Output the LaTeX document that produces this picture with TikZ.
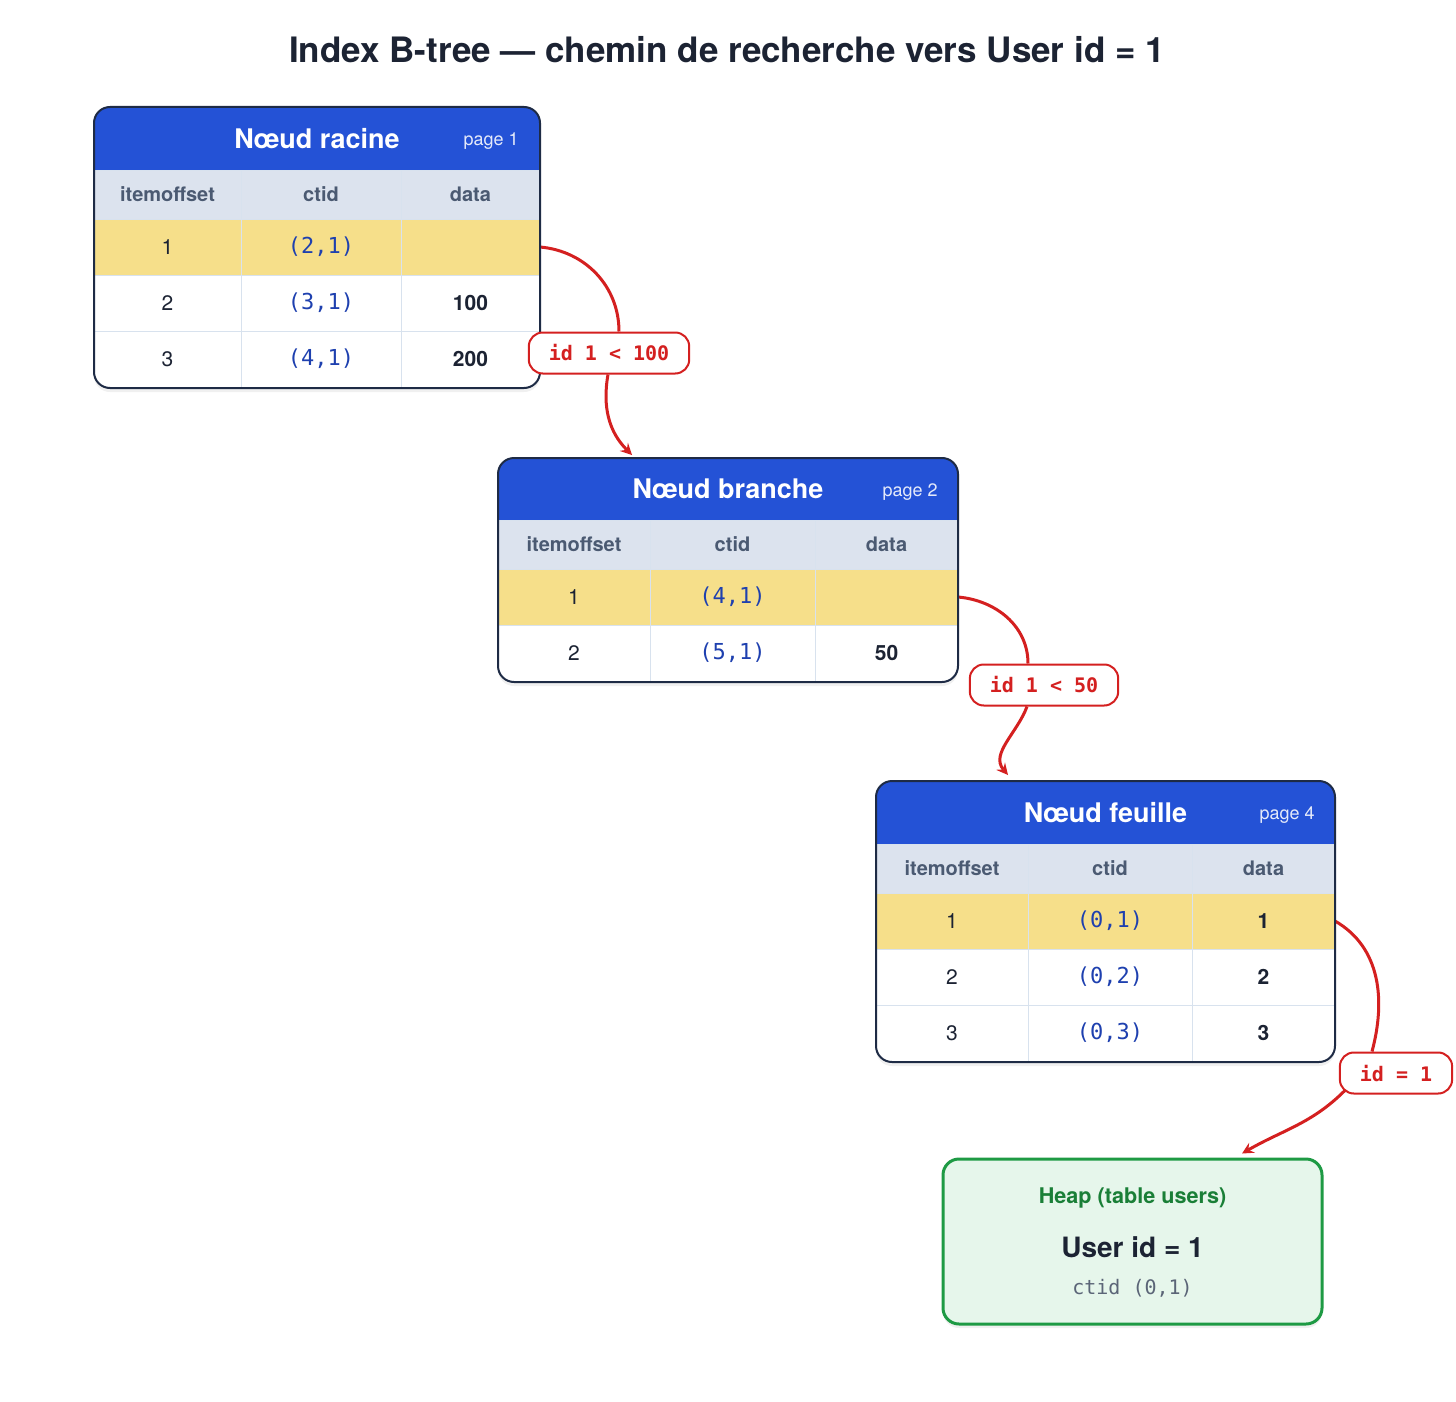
\documentclass[tikz,border=0pt]{standalone}
\usepackage{fontspec}
\setmainfont{TeX Gyre Heros}
\setmonofont{DejaVu Sans Mono}
\usepackage{tikz}
\usetikzlibrary{positioning,arrows,shadows,backgrounds}

\definecolor{headblue}{HTML}{2452D6}
\definecolor{colgrey}{HTML}{DCE3EE}
\definecolor{coltext}{HTML}{4B5A72}
\definecolor{hityellow}{HTML}{F6DF8A}
\definecolor{framenavy}{HTML}{1E2B45}
\definecolor{gridline}{HTML}{D8E2EE}
\definecolor{inktext}{HTML}{1C2333}
\definecolor{ctidblue}{HTML}{1E40AF}
\definecolor{linkred}{HTML}{D42020}
\definecolor{heapgreen}{HTML}{1E9A44}
\definecolor{heapfill}{HTML}{E6F6EB}
\definecolor{heaptext}{HTML}{1A7F37}
\definecolor{mutedgrey}{HTML}{5B6577}

\tikzstyle{headcell} = [rectangle, minimum height=31.5pt, inner sep=0pt, outer sep=0pt, fill=headblue, text=white, font=\fontsize{13.5}{16}\selectfont\bfseries]
\tikzstyle{pagelabel} = [inner sep=0pt, text=white!88!headblue, font=\fontsize{9}{11}\selectfont]
\tikzstyle{cell} = [rectangle, minimum height=28pt, inner sep=0pt, outer sep=0pt, draw=gridline, line width=0.5pt, fill=white, text=inktext, font=\fontsize{10.5}{12}\selectfont]
\tikzstyle{colhead} = [cell, minimum height=24.5pt, fill=colgrey, text=coltext, font=\fontsize{10}{12}\selectfont\bfseries]
\tikzstyle{hit} = [fill=hityellow]
\tikzstyle{ctid} = [text=ctidblue, font=\fontsize{11}{13}\selectfont\ttfamily]
\tikzstyle{datum} = [font=\fontsize{10.5}{12}\selectfont\bfseries]
\tikzstyle{frame} = [draw=framenavy, line width=1pt, rounded corners=8pt]
\tikzstyle{paper} = [fill=white, rounded corners=8pt, drop shadow={opacity=0.12, shadow xshift=0pt, shadow yshift=-2pt}]
\tikzstyle{cond} = [rectangle, rounded corners=7pt, draw=linkred, line width=1pt, fill=white, minimum height=20.5pt, inner xsep=10pt, text=linkred, font=\fontsize{10}{12}\selectfont\ttfamily\bfseries]
\tikzstyle{link} = [line width=1.5pt, draw=linkred]
\tikzstyle{arrow} = [link, ->, >=stealth]
\tikzstyle{heapbox} = [rectangle, rounded corners=8pt, draw=heapgreen, line width=1.5pt, fill=heapfill, minimum width=189.5pt, minimum height=82.5pt]

\begin{document}
\begin{tikzpicture}[x=0.5pt, y=-0.5pt]
\useasboundingbox (0,0) rectangle (1456,1402);

\node (title) [text=inktext, font=\fontsize{17.5}{21}\selectfont\bfseries] at (727,50) {Index B-tree — chemin de recherche vers User id = 1};

% root page
\fill [paper] (94,107) rectangle (540,388);
\begin{scope}
\clip [rounded corners=8pt] (94,107) rectangle (540,388);
\node (racine) [headcell, minimum width=223pt, anchor=north west] at (94,107) {Nœud racine};
\node (racineoff) [colhead, minimum width=73.5pt, below right=0pt of racine.south west] {itemoffset};
\node (racinectid) [colhead, minimum width=80pt, right=0pt of racineoff] {ctid};
\node (racinedata) [colhead, minimum width=69.5pt, right=0pt of racinectid] {data};
\node (racine1off) [cell, hit, minimum width=73.5pt, below=0pt of racineoff] {1};
\node (racine1ctid) [cell, hit, ctid, minimum width=80pt, right=0pt of racine1off] {(2,1)};
\node (racine1data) [cell, hit, datum, minimum width=69.5pt, right=0pt of racine1ctid] {};
\node (racine2off) [cell, minimum width=73.5pt, below=0pt of racine1off] {2};
\node (racine2ctid) [cell, ctid, minimum width=80pt, right=0pt of racine2off] {(3,1)};
\node (racine2data) [cell, datum, minimum width=69.5pt, right=0pt of racine2ctid] {100};
\node (racine3off) [cell, minimum width=73.5pt, below=0pt of racine2off] {3};
\node (racine3ctid) [cell, ctid, minimum width=80pt, right=0pt of racine3off] {(4,1)};
\node (racine3data) [cell, datum, minimum width=69.5pt, right=0pt of racine3ctid] {200};
\end{scope}
\node (racinepage) [pagelabel, anchor=east] at ([xshift=-10.5pt,yshift=-1.5pt]racine.east) {page 1};
\draw [frame] (94,107) rectangle (540,388);

% branch page
\fill [paper] (498,458) rectangle (958,682);
\begin{scope}
\clip [rounded corners=8pt] (498,458) rectangle (958,682);
\node (branche) [headcell, minimum width=230pt, minimum height=31pt, anchor=north west] at (498,458) {Nœud branche};
\node (brancheoff) [colhead, minimum width=76pt, below right=0pt of branche.south west] {itemoffset};
\node (branchectid) [colhead, minimum width=82.5pt, right=0pt of brancheoff] {ctid};
\node (branchedata) [colhead, minimum width=71.5pt, right=0pt of branchectid] {data};
\node (branche1off) [cell, hit, minimum width=76pt, below=0pt of brancheoff] {1};
\node (branche1ctid) [cell, hit, ctid, minimum width=82.5pt, right=0pt of branche1off] {(4,1)};
\node (branche1data) [cell, hit, datum, minimum width=71.5pt, right=0pt of branche1ctid] {};
\node (branche2off) [cell, minimum width=76pt, below=0pt of branche1off] {2};
\node (branche2ctid) [cell, ctid, minimum width=82.5pt, right=0pt of branche2off] {(5,1)};
\node (branche2data) [cell, datum, minimum width=71.5pt, right=0pt of branche2ctid] {50};
\end{scope}
\node (branchepage) [pagelabel, anchor=east] at ([xshift=-10pt,yshift=-1.5pt]branche.east) {page 2};
\draw [frame] (498,458) rectangle (958,682);

% leaf page
\fill [paper] (876,781) rectangle (1335,1062);
\begin{scope}
\clip [rounded corners=8pt] (876,781) rectangle (1335,1062);
\node (feuille) [headcell, minimum width=229.5pt, anchor=north west] at (876,781) {Nœud feuille};
\node (feuilleoff) [colhead, minimum width=76pt, below right=0pt of feuille.south west] {itemoffset};
\node (feuillectid) [colhead, minimum width=82pt, right=0pt of feuilleoff] {ctid};
\node (feuilledata) [colhead, minimum width=71.5pt, right=0pt of feuillectid] {data};
\node (feuille1off) [cell, hit, minimum width=76pt, below=0pt of feuilleoff] {1};
\node (feuille1ctid) [cell, hit, ctid, minimum width=82pt, right=0pt of feuille1off] {(0,1)};
\node (feuille1data) [cell, hit, datum, minimum width=71.5pt, right=0pt of feuille1ctid] {1};
\node (feuille2off) [cell, minimum width=76pt, below=0pt of feuille1off] {2};
\node (feuille2ctid) [cell, ctid, minimum width=82pt, right=0pt of feuille2off] {(0,2)};
\node (feuille2data) [cell, datum, minimum width=71.5pt, right=0pt of feuille2ctid] {2};
\node (feuille3off) [cell, minimum width=76pt, below=0pt of feuille2off] {3};
\node (feuille3ctid) [cell, ctid, minimum width=82pt, right=0pt of feuille3off] {(0,3)};
\node (feuille3data) [cell, datum, minimum width=71.5pt, right=0pt of feuille3ctid] {3};
\end{scope}
\node (feuillepage) [pagelabel, anchor=east] at ([xshift=-10pt,yshift=-1.5pt]feuille.east) {page 4};
\draw [frame] (876,781) rectangle (1335,1062);

% heap tuple
\node (heap) [heapbox, drop shadow={opacity=0.12, shadow xshift=0pt, shadow yshift=-2pt}] at (1132.5,1241.5) {};
\node (heaptitle) [text=heaptext, font=\fontsize{10.8}{13}\selectfont\bfseries] at (1132.5,1198) {Heap (table users)};
\node (heaprow) [text=inktext, font=\fontsize{14}{17}\selectfont\bfseries] at (1132.5,1247) {User id = 1};
\node (heapctid) [text=mutedgrey, font=\fontsize{10}{12}\selectfont\ttfamily] at (1132.5,1288) {ctid (0,1)};

% search conditions
\node (cond1) [cond] at (609,353) {id 1 < 100};
\node (cond2) [cond] at (1044,685) {id 1 < 50};
\node (cond3) [cond] at (1396,1073) {id = 1};

\begin{scope}[on background layer]
\draw [link] (racine1data.east) to [out=-5, in=90] ([xshift=5pt]cond1.north);
\draw [arrow] ([xshift=-0.5pt]cond1.south) to [out=-100, in=135] ([xshift=-48pt,yshift=1.5pt]branche.north);
\draw [link] (branche1data.east) to [out=-5, in=90] ([xshift=-8pt]cond2.north);
\draw [arrow] ([xshift=-8.5pt]cond2.south) to [out=-110, in=130] ([xshift=-48.75pt,yshift=3pt]feuille.north);
\draw [link] (feuille1data.east) to [out=-30, in=75] ([xshift=-12pt]cond3.north);
\draw [arrow] ([xshift=3pt,yshift=2pt]cond3.south west) to [out=-135, in=30] ([xshift=54.75pt,yshift=2pt]heap.north);
\end{scope}
\end{tikzpicture}
\end{document}
